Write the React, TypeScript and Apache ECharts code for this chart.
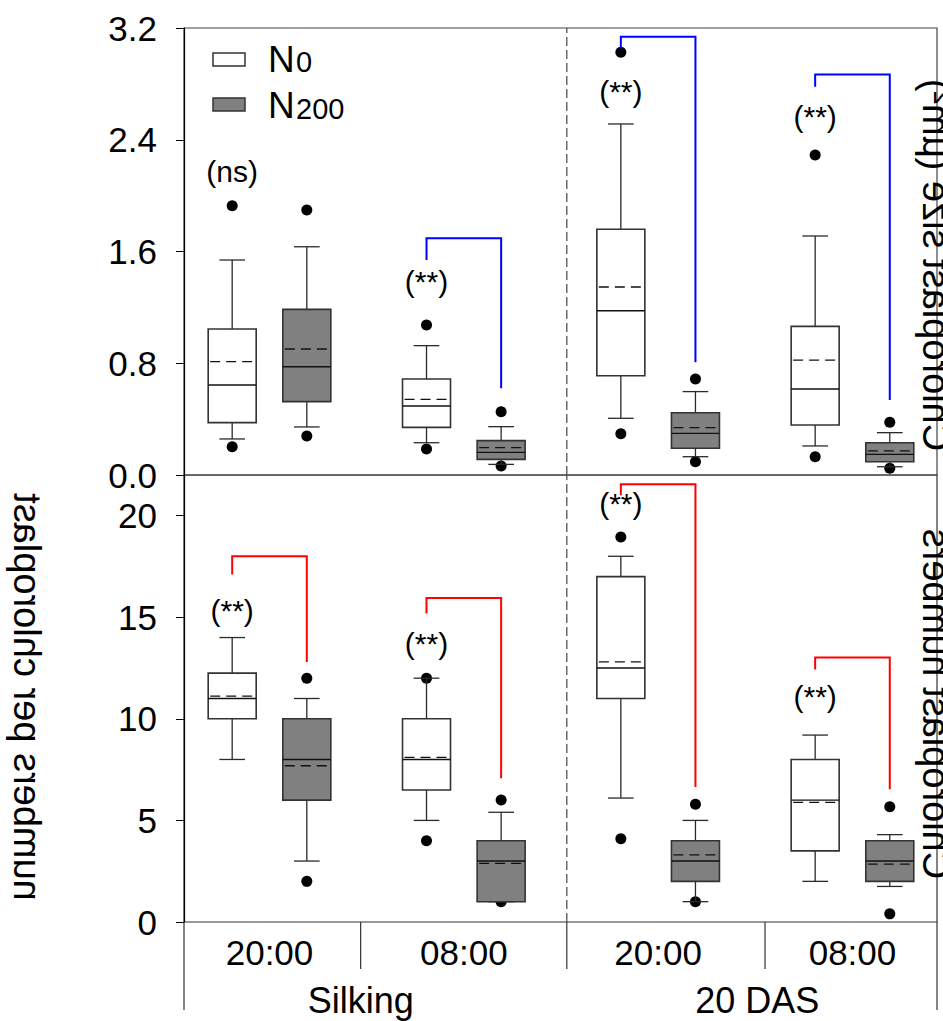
import React, { useEffect, useRef } from "react";
import * as echarts from "echarts";

const FONT = "'Liberation Sans', Arial, Helvetica, sans-serif";

// group order: Silking 20:00, Silking 08:00, 20 DAS 20:00, 20 DAS 08:00
const timeLabels = ["20:00", "08:00", "20:00", "08:00"];
const stageLabels = ["Silking", "20 DAS"];
const groupX = [0, 1, 2, 3];
const stageX = [0.47, 2.51];
const stageDividerX = 1.53;
const labelDividerX = [0.469, 1.53, 2.55];
const X_MIN = -0.44;
const X_MAX = 3.435;
const BOX_OFFSET = 0.192;
const BOX_WIDTH = 0.247;
const CAP_WIDTH = 0.132;

// Top panel: chloroplast size (µm²)
// [lower whisker, Q1, median, Q3, upper whisker, mean]
const sizeN0 = [
  [0.258, 0.375, 0.644, 1.045, 1.539, 0.811],
  [0.231, 0.341, 0.494, 0.687, 0.926, 0.542],
  [0.406, 0.711, 1.176, 1.759, 2.513, 1.346],
  [0.208, 0.358, 0.616, 1.064, 1.711, 0.823],
];
const sizeN200 = [
  [0.344, 0.525, 0.775, 1.186, 1.634, 0.902],
  [0.076, 0.112, 0.162, 0.246, 0.346, 0.196],
  [0.131, 0.191, 0.298, 0.446, 0.597, 0.339],
  [0.059, 0.095, 0.148, 0.231, 0.303, 0.172],
];
const sizeOutN0 = [
  [0.203, 1.928],
  [0.186, 1.074],
  [0.296, 3.026],
  [0.131, 2.291],
];
const sizeOutN200 = [
  [0.279, 1.897],
  [0.064, 0.453],
  [0.095, 0.687],
  [0.048, 0.377],
];
// [group, left end, bracket top, right end]
const sizeBrackets = [
  [1, 1.539, 1.694, 0.621],
  [2, 3.054, 3.138, 0.807],
  [3, 2.78, 2.868, 0.537],
];
const sizeSigText = ["(ns)", "(**)", "(**)", "(**)"];
const sizeSigY = [2.171, 1.384, 2.744, 2.565];

// Bottom panel: chloroplast numbers
const numN0 = [
  [8, 10, 11, 12.25, 14, 11.12],
  [5, 6.5, 8, 10, 12, 8.1],
  [6.1, 11, 12.5, 17, 18, 12.8],
  [2, 3.5, 6, 8, 9.2, 5.89],
];
const numN200 = [
  [3, 6, 8, 10, 11, 7.69],
  [1, 1, 3, 4, 5.4, 2.89],
  [1, 2, 3, 4, 5, 3.3],
  [1.75, 2, 3, 4, 4.3, 2.85],
];
const numOutN0 = [[], [4, 12], [4.1, 18.95], []];
const numOutN200 = [
  [2, 12],
  [1, 6],
  [1, 5.8],
  [0.4, 5.67],
];
const numBrackets = [
  [0, 17.1, 18.0, 12.8],
  [1, 15.18, 15.95, 7.07],
  [2, 21.0, 21.54, 6.65],
  [3, 12.43, 13.02, 6.53],
];
const numSigText = ["(**)", "(**)", "(**)", "(**)"];
const numSigY = [15.35, 13.71, 20.6, 11.08];

const sizeTicks = { min: 0, max: 3.2, interval: 0.8 };
const numTicks = { min: 0, max: 22, interval: 5 };

const STROKE = "#2a2a2a";
const N200_FILL = "#808080";

function boxSeries(idx: number, stats: number[][], offset: number, fill: string) {
  const data = stats.map((s, i) => [groupX[i] + offset, ...s]);
  return {
    type: "custom",
    xAxisIndex: idx,
    yAxisIndex: idx,
    z: 4,
    data,
    encode: { x: 0, y: [1, 2, 3, 4, 5] },
    renderItem: (params: any, api: any) => {
      const x = api.value(0);
      const lo = api.coord([x, api.value(1)]);
      const q1 = api.coord([x, api.value(2)]);
      const md = api.coord([x, api.value(3)]);
      const q3 = api.coord([x, api.value(4)]);
      const hi = api.coord([x, api.value(5)]);
      const mn = api.coord([x, api.value(6)]);
      const hw = api.size([BOX_WIDTH, 0])[0] / 2;
      const cw = api.size([CAP_WIDTH, 0])[0] / 2;
      const cx = lo[0];
      const ls = { stroke: STROKE, lineWidth: 1.3 };
      return {
        type: "group",
        children: [
          { type: "line", shape: { x1: cx, y1: q3[1], x2: cx, y2: hi[1] }, style: ls },
          { type: "line", shape: { x1: cx - cw, y1: hi[1], x2: cx + cw, y2: hi[1] }, style: ls },
          { type: "line", shape: { x1: cx, y1: q1[1], x2: cx, y2: lo[1] }, style: ls },
          { type: "line", shape: { x1: cx - cw, y1: lo[1], x2: cx + cw, y2: lo[1] }, style: ls },
          {
            type: "rect",
            shape: { x: cx - hw, y: q3[1], width: hw * 2, height: q1[1] - q3[1] },
            style: { fill, stroke: "#333", lineWidth: 1.6 },
          },
          { type: "line", shape: { x1: cx - hw, y1: md[1], x2: cx + hw, y2: md[1] }, style: { stroke: "#111", lineWidth: 1.4 } },
          {
            type: "line",
            shape: { x1: cx - hw + 2, y1: mn[1], x2: cx + hw - 2, y2: mn[1] },
            style: { stroke: "#111", lineWidth: 1.3, lineDash: [10, 6] },
          },
        ],
      };
    },
  };
}

function outlierSeries(idx: number, outs: number[][], offset: number) {
  const data: number[][] = [];
  outs.forEach((vals, i) => vals.forEach((v) => data.push([groupX[i] + offset, v])));
  return {
    type: "scatter",
    xAxisIndex: idx,
    yAxisIndex: idx,
    z: 3,
    symbol: "circle",
    symbolSize: 11,
    itemStyle: { color: "#000", opacity: 1 },
    data,
  };
}

function bracketSeries(idx: number, brackets: number[][], color: string) {
  return {
    type: "custom",
    xAxisIndex: idx,
    yAxisIndex: idx,
    z: 5,
    data: brackets,
    renderItem: (params: any, api: any) => {
      const g = api.value(0);
      const xl = groupX[g] - BOX_OFFSET;
      const xr = groupX[g] + BOX_OFFSET;
      const p1 = api.coord([xl, api.value(1)]);
      const p2 = api.coord([xl, api.value(2)]);
      const p3 = api.coord([xr, api.value(2)]);
      const p4 = api.coord([xr, api.value(3)]);
      return {
        type: "polyline",
        shape: { points: [p1, p2, p3, p4] },
        style: { stroke: color, lineWidth: 2, fill: "none" },
      };
    },
  };
}

function sigTextSeries(idx: number, texts: string[], ys: number[]) {
  return {
    type: "custom",
    xAxisIndex: idx,
    yAxisIndex: idx,
    z: 6,
    clip: false,
    data: ys.map((y, i) => [groupX[i] - BOX_OFFSET, y]),
    renderItem: (params: any, api: any) => {
      const p = api.coord([api.value(0), api.value(1)]);
      return {
        type: "text",
        x: p[0],
        y: p[1],
        style: {
          text: texts[params.dataIndex],
          fill: "#000",
          font: `30px ${FONT}`,
          align: "center",
          verticalAlign: "middle",
          textAlign: "center",
          textVerticalAlign: "middle",
        },
      };
    },
  };
}

function dividerSeries(idx: number, yMin: number, yMax: number) {
  return {
    type: "custom",
    xAxisIndex: idx,
    yAxisIndex: idx,
    z: 2,
    data: [[stageDividerX, yMin, yMax]],
    renderItem: (params: any, api: any) => {
      const a = api.coord([api.value(0), api.value(1)]);
      const b = api.coord([api.value(0), api.value(2)]);
      return {
        type: "line",
        shape: { x1: a[0], y1: a[1], x2: b[0], y2: b[1] },
        style: { stroke: "#444", lineWidth: 1.2, lineDash: [9, 4] },
      };
    },
  };
}

function categoryLabelSeries() {
  const items: any[] = [];
  timeLabels.forEach((t, i) => items.push([groupX[i], 0, 0, i]));
  stageLabels.forEach((t, i) => items.push([stageX[i], 0, 1, i]));
  return {
    type: "custom",
    xAxisIndex: 1,
    yAxisIndex: 1,
    z: 6,
    clip: false,
    data: items,
    renderItem: (params: any, api: any) => {
      const p = api.coord([api.value(0), api.value(1)]);
      const kind = api.value(2);
      const k = api.value(3);
      const text = kind === 0 ? timeLabels[k] : stageLabels[k];
      return {
        type: "text",
        x: p[0],
        y: p[1] + (kind === 0 ? 30 : 78),
        style: {
          text,
          fill: "#000",
          font: `${kind === 0 ? 35 : 36}px ${FONT}`,
          align: "center",
          verticalAlign: "middle",
          textAlign: "center",
          textVerticalAlign: "middle",
        },
      };
    },
  };
}

function tableLinesSeries() {
  const items: number[][] = [];
  labelDividerX.forEach((x) => items.push([x, 0, 47]));
  items.push([X_MIN, 0, 88]);
  items.push([X_MAX, 0, 88]);
  return {
    type: "custom",
    xAxisIndex: 1,
    yAxisIndex: 1,
    z: 2,
    clip: false,
    data: items,
    renderItem: (params: any, api: any) => {
      const p = api.coord([api.value(0), api.value(1)]);
      return {
        type: "line",
        shape: { x1: p[0], y1: p[1], x2: p[0], y2: p[1] + api.value(2) },
        style: { stroke: "#333", lineWidth: 1.2 },
      };
    },
  };
}

export default function App() {
  const ref = useRef<HTMLDivElement>(null);
  useEffect(() => {
    if (!ref.current) return;
    const chart = echarts.init(ref.current, undefined, { renderer: "svg" });
    const yAxisCommon = {
      type: "value",
      splitLine: { show: false },
      axisLine: { show: true, onZero: false, lineStyle: { color: "#000", width: 1.2 } },
      axisTick: { show: true, inside: false, length: 8, lineStyle: { color: "#000", width: 1 } },
    };
    const option: any = {
      animation: false,
      backgroundColor: "#fff",
      grid: [
        { left: 184, top: 28, width: 753, height: 447, show: true, borderColor: "#444", borderWidth: 1.2, backgroundColor: "transparent" },
        { left: 184, top: 475, width: 753, height: 447, show: true, borderColor: "#333", borderWidth: 1.2, backgroundColor: "transparent" },
      ],
      xAxis: [
        { type: "value", gridIndex: 0, min: X_MIN, max: X_MAX, show: false },
        { type: "value", gridIndex: 1, min: X_MIN, max: X_MAX, show: false },
      ],
      yAxis: [
        {
          ...yAxisCommon,
          gridIndex: 0,
          position: "left",
          min: sizeTicks.min,
          max: sizeTicks.max,
          interval: sizeTicks.interval,
          axisLabel: {
            fontSize: 35,
            fontFamily: FONT,
            color: "#000",
            margin: 27,
            formatter: (v: number) => v.toFixed(1),
          },
        },
        {
          ...yAxisCommon,
          gridIndex: 1,
          position: "left",
          min: numTicks.min,
          max: numTicks.max,
          interval: numTicks.interval,
          axisLabel: {
            fontSize: 35,
            fontFamily: FONT,
            color: "#000",
            margin: 27,
            showMaxLabel: false,
            formatter: (v: number) => (v > 20 ? "" : String(v)),
          },
        },
      ],
      series: [
        dividerSeries(0, sizeTicks.min, sizeTicks.max),
        dividerSeries(1, numTicks.min, numTicks.max),
        outlierSeries(0, sizeOutN0, -BOX_OFFSET),
        outlierSeries(0, sizeOutN200, BOX_OFFSET),
        outlierSeries(1, numOutN0, -BOX_OFFSET),
        outlierSeries(1, numOutN200, BOX_OFFSET),
        boxSeries(0, sizeN0, -BOX_OFFSET, "#fff"),
        boxSeries(0, sizeN200, BOX_OFFSET, N200_FILL),
        boxSeries(1, numN0, -BOX_OFFSET, "#fff"),
        boxSeries(1, numN200, BOX_OFFSET, N200_FILL),
        bracketSeries(0, sizeBrackets, "#0000ff"),
        bracketSeries(1, numBrackets, "#ff0000"),
        sigTextSeries(0, sizeSigText, sizeSigY),
        sigTextSeries(1, numSigText, numSigY),
        categoryLabelSeries(),
        tableLinesSeries(),
      ],
      graphic: [
        // legend
        { type: "rect", shape: { x: 213, y: 53, width: 32, height: 13 }, style: { fill: "#fff", stroke: "#333", lineWidth: 1.5 } },
        { type: "rect", shape: { x: 213, y: 98, width: 32, height: 13 }, style: { fill: N200_FILL, stroke: "#333", lineWidth: 1.5 } },
        { type: "text", x: 268, y: 59, style: { text: "N", font: `37px ${FONT}`, fill: "#000", align: "left", verticalAlign: "middle" } },
        { type: "text", x: 296, y: 62, style: { text: "0", font: `29px ${FONT}`, fill: "#000", align: "left", verticalAlign: "middle" } },
        { type: "text", x: 268, y: 105.5, style: { text: "N", font: `37px ${FONT}`, fill: "#000", align: "left", verticalAlign: "middle" } },
        { type: "text", x: 296, y: 108.5, style: { text: "200", font: `29px ${FONT}`, fill: "#000", align: "left", verticalAlign: "middle" } },
        // mirrored axis titles
        {
          type: "text",
          x: 27,
          y: 697,
          rotation: -Math.PI / 2,
          scaleX: -1,
          style: { text: "numbers per chloroplast", font: `38px ${FONT}`, fill: "#000", align: "center", verticalAlign: "middle" },
        },
        {
          type: "text",
          x: 936,
          y: 265,
          rotation: -Math.PI / 2,
          scaleX: -1,
          style: { text: "Chloroplast size (µm²)", font: `38px ${FONT}`, fill: "#000", align: "center", verticalAlign: "middle" },
        },
        {
          type: "text",
          x: 936,
          y: 704,
          rotation: -Math.PI / 2,
          scaleX: -1,
          style: { text: "Chloroplast numbers", font: `38px ${FONT}`, fill: "#000", align: "center", verticalAlign: "middle" },
        },
      ],
    };
    chart.setOption(option);
    return () => chart.dispose();
  }, []);
  return (
    <div
      ref={ref}
      style={{ position: "fixed", left: 0, top: 0, width: 943, height: 1021, background: "#fff" }}
    />
  );
}
